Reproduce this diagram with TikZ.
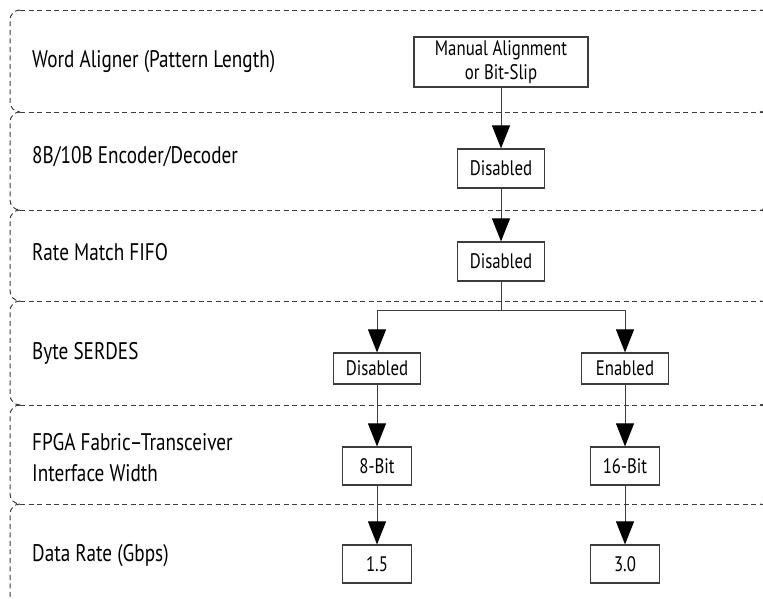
\documentclass[tikz,border=0pt]{standalone}
\usepackage{fontspec}
\setmainfont{PT Sans}[FakeStretch=0.8]
\usepackage{tikz}
\usetikzlibrary{arrows.meta,positioning}
\definecolor{lineGray}{RGB}{60,60,60}

\begin{document}
\begin{tikzpicture}[x=1pt, y=-1pt,
    band/.style={draw=lineGray, line width=1pt, dash pattern=on 5pt off 3.5pt},
    row/.style={anchor=west, font=\fontsize{24}{31}\selectfont, align=left, inner sep=0pt},
    opt/.style={draw=lineGray, line width=1.2pt, minimum width=87pt, minimum height=39pt,
      font=\fontsize{21}{26}\selectfont, inner sep=2pt, align=center},
    flow/.style={draw=lineGray, line width=1pt, -{Triangle[length=23pt,width=18pt,color=black]}},
  ]
  \useasboundingbox (0,0) rectangle (763,598);
  \clip (0,0) rectangle (763,598);

  % dashed bands
  \foreach \yy in {10,112,210,301,405,504}
    \draw[band] (20,\yy) -- (760,\yy);
  \foreach \ya/\yb in {10/112,112/210,210/301,301/405,405/504,504/620} {
    \draw[band, rounded corners=10pt] (20,\ya) -- (10,\ya) -- (10,\yb) -- (20,\yb);
    \draw[band, rounded corners=10pt] (760,\ya) -- (770,\ya) -- (770,\yb) -- (760,\yb);
  }

  % row labels
  \node[row] (wa) at (32,62) {Word Aligner (Pattern Length)};
  \node[row] (ed) at (32,157) {8B/10B Encoder/Decoder};
  \node[row] (rm) at (32,252) {Rate Match FIFO};
  \node[row] (bs) at (32,353) {Byte SERDES};
  \node[row] (fw) at (32,458) {FPGA Fabric--Transceiver\\Interface Width};
  \node[row] (dr) at (32,556) {Data Rate (Gbps)};

  % option boxes
  \node[opt, minimum width=174pt, minimum height=50pt, font=\fontsize{21}{24}\selectfont]
    (manual) at (501,62) {Manual Alignment\\or Bit-Slip};
  \node[opt] (enc) at (501,168.5) {Disabled};
  \node[opt] (rmf) at (501,261.5) {Disabled};
  \node[opt, minimum height=31pt] (serOff) at (377,368.5) {Disabled};
  \node[opt, minimum height=31pt] (serOn) at (625,368.5) {Enabled};
  \node[opt, minimum width=69pt, minimum height=38pt] (w8) at (377,466) {8-Bit};
  \node[opt, minimum width=69pt, minimum height=38pt] (w16) at (625,466) {16-Bit};
  \node[opt, minimum width=69pt, minimum height=38pt] (r15) at (377,564) {1.5};
  \node[opt, minimum width=69pt, minimum height=38pt] (r30) at (625,564) {3.0};

  % connectors
  \coordinate (fork) at (501,310);
  \draw[flow] (manual) -- (enc);
  \draw[flow] (enc) -- (rmf);
  \draw[draw=lineGray, line width=1pt] (rmf) -- (fork);
  \draw[flow] (fork) -| (serOff);
  \draw[flow] (fork) -| (serOn);
  \draw[flow] (serOff) -- (w8);
  \draw[flow] (serOn) -- (w16);
  \draw[flow] (w8) -- (r15);
  \draw[flow] (w16) -- (r30);
\end{tikzpicture}
\end{document}
